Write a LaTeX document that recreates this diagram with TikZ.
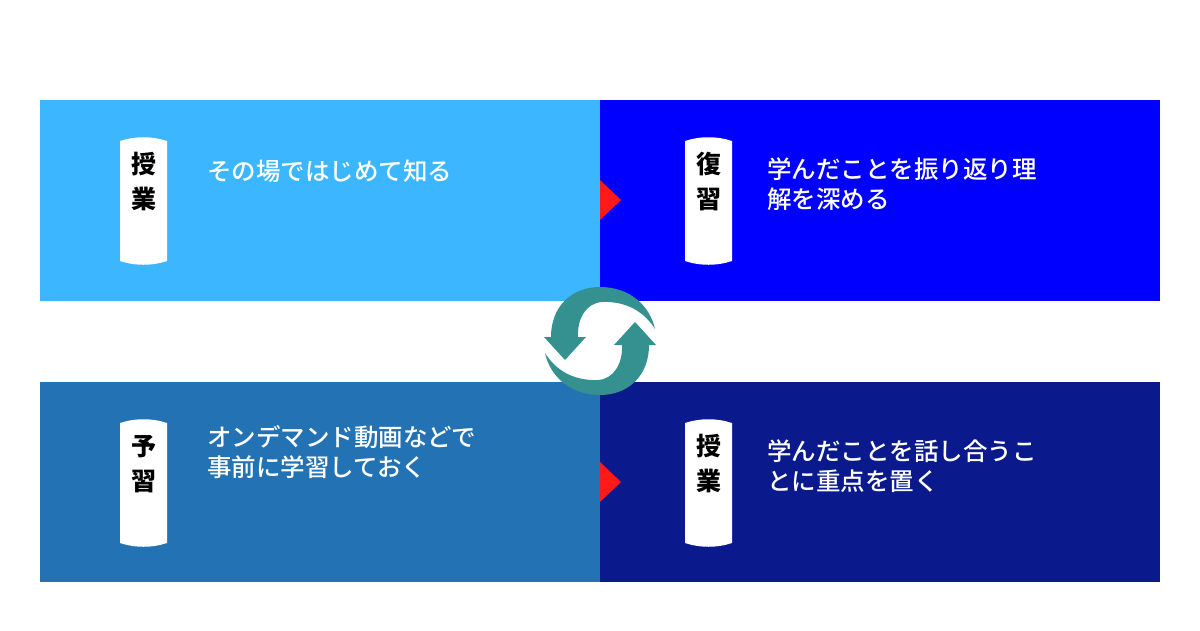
\documentclass[tikz,border=0pt]{standalone}
\usepackage{fontspec}
\newfontfamily\jp{Noto Sans CJK JP Medium}
\newfontfamily\jpb{Noto Sans CJK JP Black}
\definecolor{ca}{HTML}{3BB6FF}
\definecolor{cb}{HTML}{0000FF}
\definecolor{cc}{HTML}{2373B4}
\definecolor{cd}{HTML}{0A1A8C}
\definecolor{teal}{HTML}{359090}
\definecolor{rd}{HTML}{FF1A1A}
\begin{document}
\begin{tikzpicture}[x=1pt,y=-1pt,
  body/.style={anchor=north west,align=left,text=white,font=\jp\fontsize{24.5}{30}\selectfont,inner sep=0},
  tabtxt/.style={font=\jpb\fontsize{25}{35}\selectfont,align=center,inner sep=0}]
\useasboundingbox (0,0) rectangle (1200,630);
\fill[white] (0,0) rectangle (1200,630);
\fill[ca] (40,100) rectangle (600,301);
\fill[cb] (600,100) rectangle (1160,301);
\fill[cc] (40,382) rectangle (600,582);
\fill[cd] (600,382) rectangle (1160,582);
\fill[rd] (600,180) -- (621,200) -- (600,220) -- cycle;
\fill[rd] (600,462) -- (621,482) -- (600,502) -- cycle;
\foreach \x/\y/\n in {120/137/a,685/137/b,120/419/c,685/419/d}{
  \fill[white] (\x,\y+4) .. controls (\x+15,\y-1) and (\x+32,\y-1) .. (\x+47,\y+4)
    -- (\x+47,\y+124) .. controls (\x+32,\y+129) and (\x+15,\y+129) .. (\x,\y+124) -- cycle;
}
\node[tabtxt] (ta) at (143.5,182) {授\\業};
\node[tabtxt] (tb) at (708.5,182) {復\\習};
\node[tabtxt] (tc) at (143.5,464) {予\\習};
\node[tabtxt] (td) at (708.5,464) {授\\業};
\node[body] (ba) at (207,160) {その場ではじめて知る};
\node[body] (bb) at (767,157) {学んだことを振り返り理\\解を深める};
\node[body] (bc) at (207,425) {オンデマンド動画などで\\事前に学習しておく};
\node[body] (bd) at (767,439) {学んだことを話し合うこ\\とに重点を置く};
% cycle icon
\begin{scope}[shift={(600,341)}]
\foreach \r in {0,180}{
\begin{scope}[rotate=\r]
\fill[teal] (-49,-4) .. controls (-49,-35) and (-28,-54) .. (0,-54)
  .. controls (30,-54) and (50,-35) .. (55,-12)
  .. controls (45,-28) and (28,-40) .. (2,-39)
  .. controls (-14,-38) and (-23,-22) .. (-22,-4) -- cycle;
\fill[teal] (-56,-4) -- (-14,-4) -- (-35,19) -- cycle;
\end{scope}}
\end{scope}
\end{tikzpicture}
\end{document}
